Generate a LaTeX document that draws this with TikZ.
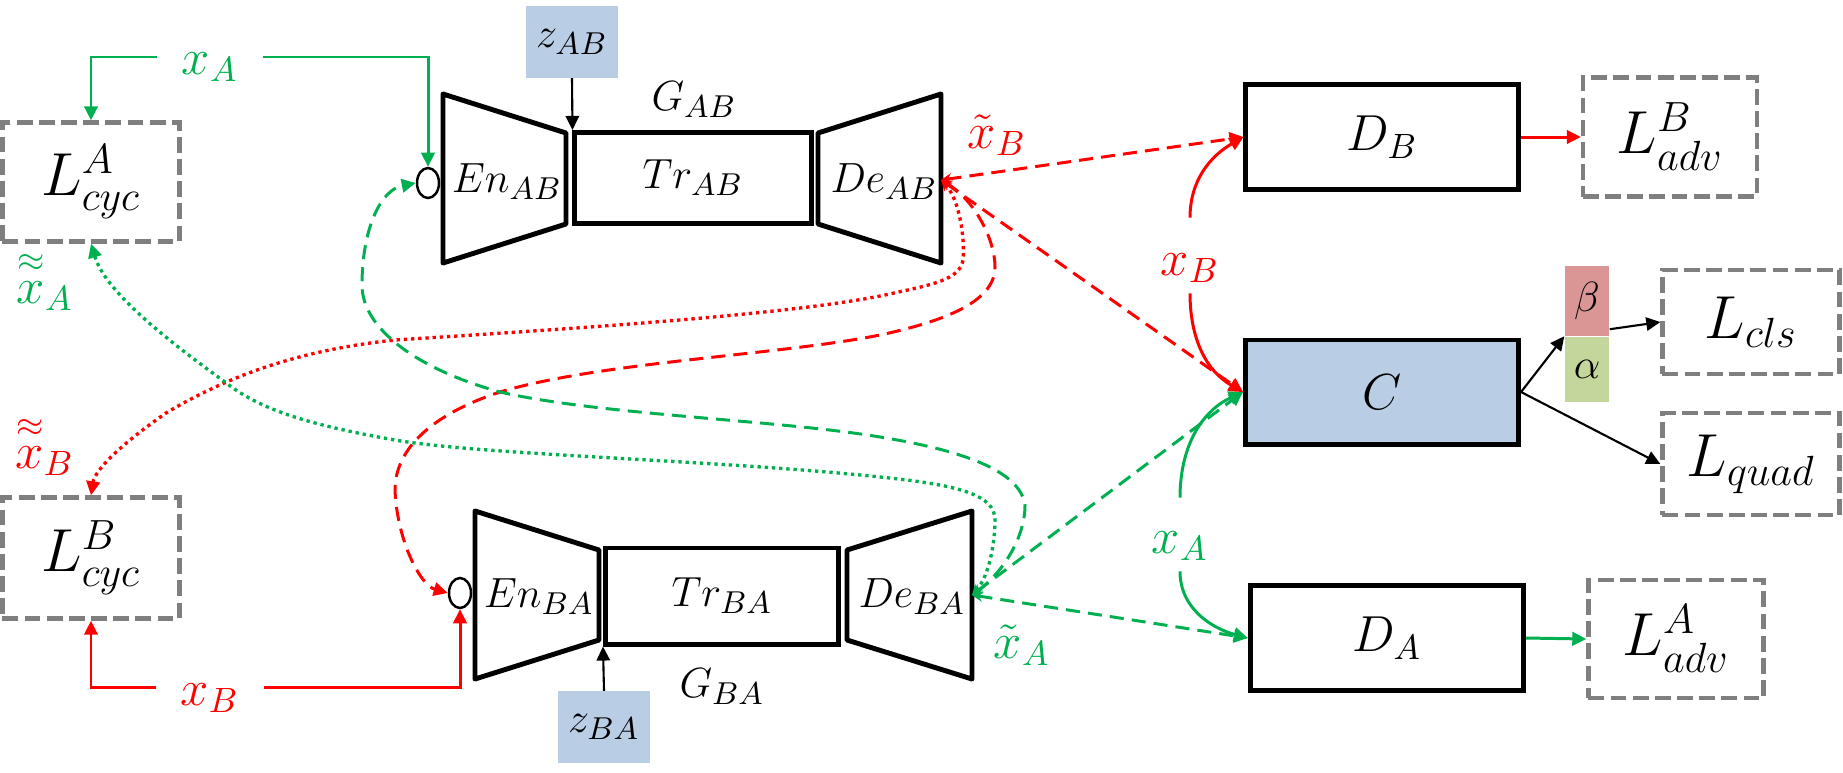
\documentclass[tikz,border=0pt]{standalone}
\usepackage{amsmath}
\usepackage{xcolor}
\usepackage{tikz}
\usetikzlibrary{arrows.meta}
\usetikzlibrary{shapes.geometric, positioning}

\definecolor{verde}{HTML}{00B050}
\definecolor{rosso}{HTML}{FF0000}
\definecolor{grigio}{HTML}{7F7F7F}
\definecolor{azzurro}{HTML}{B9CDE5}
\definecolor{rosa}{HTML}{D99694}
\definecolor{verdino}{HTML}{C3D69B}

\begin{document}
\begin{tikzpicture}[
      x=0.01cm, y=-0.01cm,
      >={Triangle[length=4pt, width=3.8pt]},
      lbl/.style={font=\fontsize{12.5}{14}\selectfont},
      xlbl/.style={font=\fontsize{14}{16}\selectfont, inner sep=0pt},
      blocco/.style={draw, line width=1.4pt, inner sep=0pt, font=\fontsize{14}{16}\selectfont},
      perdita/.style={draw=grigio, line width=1.2pt, dash pattern=on 4.5pt off 1.8pt, inner sep=0pt, font=\fontsize{17}{20}\selectfont},
      rumore/.style={fill=azzurro, inner sep=0pt, minimum width=0.91cm, minimum height=0.71cm, lbl},
      trap/.style={line width=1.4pt, line join=round},
      ingresso/.style={draw, ellipse, line width=0.7pt, inner sep=0pt, minimum width=0.22cm, minimum height=0.3cm},
      freccia/.style={line width=0.85pt, ->},
      tratt/.style={line width=0.85pt, dash pattern=on 4pt off 2.3pt, {Stealth[length=3pt, width=3pt]}->},
      punt/.style={line width=0.95pt, dash pattern=on 0.95pt off 1.1pt, {Stealth[length=3pt, width=3pt]}->}
    ]
    \useasboundingbox (0,0) rectangle (1843,772);

    % Generatore G_AB
    \draw[trap] (443,94) -- (566,133) -- (566,224) -- (443,263) -- cycle;
    \draw[trap] (818,133) -- (941,94) -- (941,263) -- (818,224) -- cycle;
    \node[lbl] (EnAB) at (507,182) {$En_{AB}$};
    \node[blocco, lbl, minimum width=2.36cm, minimum height=0.91cm] (TrAB) at (693,178) {$Tr_{AB}$};
    \node[lbl] (DeAB) at (884,182) {$De_{AB}$};
    \node[lbl] (GAB) at (694,100) {$G_{AB}$};
    \node[ingresso] (cAB) at (428,183) {};
    \coordinate (uAB) at (941,180);
    \node[rumore] (zAB) at (572,42) {$z_{AB}$};

    % Generatore G_BA
    \draw[trap] (475,511) -- (599,550) -- (599,640) -- (475,679) -- cycle;
    \draw[trap] (847,550) -- (972,511) -- (972,679) -- (847,640) -- cycle;
    \node[lbl] (EnBA) at (539,597) {$En_{BA}$};
    \node[blocco, lbl, minimum width=2.33cm, minimum height=0.96cm] (TrBA) at (722,596) {$Tr_{BA}$};
    \node[lbl] (DeBA) at (912,597) {$De_{BA}$};
    \node[lbl] (GBA) at (722,687) {$G_{BA}$};
    \node[ingresso] (cBA) at (460,593) {};
    \coordinate (uBA) at (972,595);
    \node[rumore] (zBA) at (604,727) {$z_{BA}$};

    % Discriminatori e classificatore
    \node[blocco, minimum width=2.72cm, minimum height=1.05cm] (DB) at (1382,137) {$D_B$};
    \node[blocco, fill=azzurro, minimum width=2.73cm, minimum height=1.04cm] (C) at (1382,392) {$C$};
    \node[blocco, minimum width=2.73cm, minimum height=1.05cm] (DA) at (1387,638) {$D_A$};
    \node[lbl, fill=rosa, inner sep=0pt, minimum width=0.44cm, minimum height=0.69cm] (beta) at (1587,301) {$\beta$};
    \node[lbl, fill=verdino, inner sep=0pt, minimum width=0.44cm, minimum height=0.65cm, below=0pt of beta] (alpha) {$\alpha$};

    % Perdite
    \node[perdita, minimum width=1.77cm, minimum height=1.19cm] (LcycA) at (91,182) {$L^{A}_{cyc}$};
    \node[perdita, minimum width=1.77cm, minimum height=1.21cm] (LcycB) at (91,558) {$L^{B}_{cyc}$};
    \node[perdita, minimum width=1.74cm, minimum height=1.19cm] (LadvB) at (1670,137) {$L^{B}_{adv}$};
    \node[perdita, minimum width=1.75cm, minimum height=1.18cm] (LadvA) at (1676,639) {$L^{A}_{adv}$};
    \node[perdita, minimum width=1.77cm, minimum height=1.04cm] (Lcls) at (1751,322) {$L_{cls}$};
    \node[perdita, minimum width=1.77cm, minimum height=1.02cm] (Lquad) at (1751,464) {$L_{quad}$};

    % Etichette dei segnali
    \node[xlbl, text=verde, inner xsep=0.24cm] (xAtop) at (210,67) {$x_A$};
    \node[xlbl, text=rosso, inner xsep=0.24cm] (xBbot) at (210,698) {$x_B$};
    \node[xlbl, text=rosso] (xBmid) at (1190,268) {$x_B$};
    \node[xlbl, text=verde] (xAmid) at (1180,546) {$x_A$};
    \node[xlbl, text=rosso] (xtB) at (997,135) {$\tilde{x}_B$};
    \node[xlbl, text=verde] (xtA) at (1022,645) {$\tilde{x}_A$};
    \node[xlbl, text=verde] (xttA) at (45,280) {$\overset{\approx}{x}_A$};
    \node[xlbl, text=rosso] (xttB) at (45,445) {$\overset{\approx}{x}_B$};

    % Ingressi reali
    \draw[freccia, verde] ([yshift=0.1cm]xAtop.west) -| (LcycA.north);
    \draw[freccia, verde] ([yshift=0.1cm]xAtop.east) -| (cAB.north);
    \draw[freccia, rosso] ([yshift=0.11cm]xBbot.west) -| (LcycB.south);
    \draw[freccia, rosso] ([yshift=0.11cm]xBbot.east) -| (cBA.south);
    \draw[freccia, rosso] ([yshift=0.35cm]xBmid.north) to[out=90, in=210] (DB.west);
    \draw[freccia, rosso] ([yshift=-0.1cm]xBmid.south) to[out=-90, in=150] (C.west);
    \draw[freccia, verde] ([yshift=0.33cm]xAmid.north) to[out=90, in=205] (C.west);
    \draw[freccia, verde] ([yshift=-0.1cm]xAmid.south) to[out=-90, in=165] (DA.west);

    % Rumore
    \draw[->, line width=0.6pt] (zAB.south) -- (TrAB.north west);
    \draw[->, line width=0.6pt] (zBA.north) -- (TrBA.south west);

    % Uscite tradotte
    \draw[tratt, rosso] (uAB) -- (DB.west);
    \draw[tratt, rosso] (uAB) -- (C.west);
    \draw[tratt, verde] (uBA) -- (C.west);
    \draw[tratt, verde] (uBA) -- (DA.west);
    \draw[tratt, rosso] (uAB) .. controls (975,200) and (995,240) .. (995,267)
      .. controls (995,300) and (950,320) .. (880,335)
      .. controls (780,355) and (600,362) .. (500,392)
      .. controls (430,415) and (395,450) .. (395,490)
      .. controls (397,540) and (420,585) .. (cBA.west);
    \draw[tratt, verde] (uBA) .. controls (1000,575) and (1025,540) .. (1025,505)
      .. controls (1020,470) and (960,450) .. (880,437)
      .. controls (780,420) and (600,415) .. (500,392)
      .. controls (420,370) and (362,330) .. (362,285)
      .. controls (362,230) and (380,190) .. (cAB.west);

    % Ricostruzioni
    \draw[punt, rosso] (uAB) .. controls (960,200) and (965,240) .. (963,260)
      .. controls (960,280) and (930,285) .. (894,293)
      .. controls (800,315) and (550,330) .. (395,340)
      .. controls (300,350) and (230,375) .. (166,413)
      .. controls (120,445) and (95,470) .. (LcycB.north);
    \draw[punt, verde] (uBA) .. controls (990,575) and (995,540) .. (995,520)
      .. controls (995,495) and (960,485) .. (880,477)
      .. controls (720,460) and (480,455) .. (395,440)
      .. controls (310,425) and (260,410) .. (225,382)
      .. controls (160,335) and (105,290) .. (LcycA.south);

    % Uscite delle perdite
    \draw[freccia, rosso] (DB.east) -- (LadvB.west);
    \draw[freccia, verde] (DA.east) -- (LadvA.west);
    \draw[->, line width=0.6pt] (C.east) -- (alpha.north west);
    \draw[->, line width=0.6pt] ([yshift=0.07cm]beta.south east) -- (Lcls.west);
    \draw[->, line width=0.6pt] (C.east) -- (Lquad.west);
  \end{tikzpicture}
\end{document}
